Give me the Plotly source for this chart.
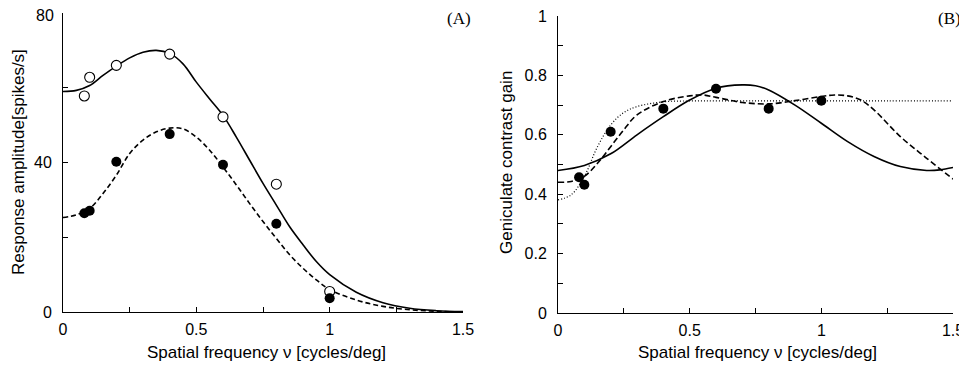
import plotly.graph_objects as go

# ---------------- Panel A data ----------------
a_pts_x = [0.08, 0.1, 0.2, 0.4, 0.6, 0.8, 1.0]
a_open_y = [57.8, 62.8, 66.0, 69.0, 52.2, 34.2, 5.5]
a_fill_y = [26.4, 27.1, 40.2, 47.6, 39.4, 23.6, 3.7]

a_curve_x = [0, 0.05, 0.1, 0.15, 0.2, 0.25, 0.3, 0.35, 0.4, 0.45, 0.5, 0.55, 0.6, 0.65,
             0.7, 0.75, 0.8, 0.85, 0.9, 0.95, 1.0, 1.1, 1.2, 1.3, 1.4, 1.5]
a_solid_y = [59.0, 59.3, 60.6, 63.3, 65.8, 68.0, 69.5, 70.0, 69.2, 66.4, 61.5, 57.0, 52.6,
             46.8, 40.6, 34.4, 28.6, 22.8, 18.0, 13.5, 10.0, 5.3, 2.5, 1.0, 0.35, 0.1]
a_dash_y = [25.3, 26.0, 27.7, 31.7, 36.6, 42.4, 46.0, 48.2, 49.2, 49.0, 46.8, 43.3, 38.8,
            34.0, 29.0, 24.2, 19.7, 15.3, 11.7, 8.6, 6.0, 3.2, 1.5, 0.6, 0.2, 0.0]

# ---------------- Panel B data ----------------
b_pts_x = [0.08, 0.1, 0.2, 0.4, 0.6, 0.8, 1.0]
b_pts_y = [0.457, 0.432, 0.61, 0.688, 0.755, 0.688, 0.715]

b_solid_x = [0, 0.1, 0.2, 0.3, 0.4, 0.5, 0.6, 0.7, 0.75, 0.8, 0.9, 1.0, 1.1, 1.2, 1.3, 1.4, 1.45, 1.5]
b_solid_y = [0.48, 0.497, 0.536, 0.60, 0.661, 0.717, 0.757, 0.768, 0.765, 0.751, 0.70,
             0.639, 0.577, 0.527, 0.493, 0.48, 0.482, 0.49]

b_dash_x = [0, 0.05, 0.1, 0.15, 0.2, 0.25, 0.3, 0.4, 0.5, 0.55, 0.6, 0.7, 0.8, 0.9, 1.0,
            1.05, 1.1, 1.15, 1.2, 1.3, 1.4, 1.5]
b_dash_y = [0.44, 0.443, 0.46, 0.504, 0.56, 0.617, 0.667, 0.712, 0.731, 0.734, 0.726,
            0.709, 0.704, 0.715, 0.729, 0.734, 0.731, 0.717, 0.684, 0.594, 0.521, 0.451]

b_dot_x = [0, 0.05, 0.1, 0.15, 0.2, 0.25, 0.3, 0.4, 0.5, 0.75, 1.0, 1.25, 1.5]
b_dot_y = [0.381, 0.398, 0.46, 0.56, 0.633, 0.675, 0.695, 0.711, 0.714, 0.714, 0.714, 0.714, 0.714]

a_xticks = [0, 0.25, 0.5, 0.75, 1.0, 1.25, 1.5]
a_xticktext = ["0", "", "0.5", "", "1", "", "1.5"]
a_yticks = [0, 20, 40, 60, 80]
a_yticktext = ["0", "", "40", "", ""]   # top label "80" drawn as annotation below
a_ytop_label = "80"
b_yticks = [0, 0.1, 0.2, 0.3, 0.4, 0.5, 0.6, 0.7, 0.8, 0.9, 1.0]
b_yticktext = ["0", "", "0.2", "", "0.4", "", "0.6", "", "0.8", "", "1"]

FONT = "Liberation Sans, Arial, sans-serif"
SERIF = "Liberation Serif, Times New Roman, serif"

# page body has an 8px margin; the figure is sized/placed to compensate
OFF = 8
W, H = 967 - OFF, 366 - OFF


def fx(px):
    return (px - OFF) / W


def fy(py):
    return 1 - (py - OFF) / H


fig = go.Figure()

line_kw = dict(color="black", width=1.6)

# Panel A
fig.add_trace(go.Scatter(x=a_curve_x, y=a_solid_y, mode="lines", line=dict(**line_kw, shape="spline"),
                         xaxis="x", yaxis="y", showlegend=False))
fig.add_trace(go.Scatter(x=a_curve_x, y=a_dash_y, mode="lines",
                         line=dict(**line_kw, shape="spline", dash="5px,3px"),
                         xaxis="x", yaxis="y", showlegend=False))
fig.add_trace(go.Scatter(x=a_pts_x, y=a_open_y, mode="markers",
                         marker=dict(symbol="circle", size=10, color="white", line=dict(color="black", width=1.1)),
                         xaxis="x", yaxis="y", showlegend=False, cliponaxis=False))
fig.add_trace(go.Scatter(x=a_pts_x, y=a_fill_y, mode="markers",
                         marker=dict(symbol="circle", size=10, color="black", line=dict(color="black", width=0)),
                         xaxis="x", yaxis="y", showlegend=False, cliponaxis=False))

# Panel B
fig.add_trace(go.Scatter(x=b_dot_x, y=b_dot_y, mode="lines",
                         line=dict(color="black", width=1.2, shape="spline", dash="1px,2px"),
                         xaxis="x2", yaxis="y2", showlegend=False))
fig.add_trace(go.Scatter(x=b_dash_x, y=b_dash_y, mode="lines",
                         line=dict(**line_kw, shape="spline", dash="6px,3px"),
                         xaxis="x2", yaxis="y2", showlegend=False))
fig.add_trace(go.Scatter(x=b_solid_x, y=b_solid_y, mode="lines", line=dict(**line_kw, shape="spline"),
                         xaxis="x2", yaxis="y2", showlegend=False))
fig.add_trace(go.Scatter(x=b_pts_x, y=b_pts_y, mode="markers",
                         marker=dict(symbol="circle", size=10, color="black", line=dict(color="black", width=0)),
                         xaxis="x2", yaxis="y2", showlegend=False, cliponaxis=False))

axis_common = dict(showgrid=False, zeroline=False, showline=True, linecolor="black", linewidth=1,
                   ticks="inside", ticklen=5, tickcolor="black", tickwidth=1, automargin=False,
                   ticklabeloverflow="allow",
                   tickfont=dict(family=FONT, size=16, color="black"), mirror=False)

fig.update_layout(
    width=W, height=H,
    margin=dict(l=0, r=0, t=0, b=0, pad=0),
    paper_bgcolor="white", plot_bgcolor="white",
    xaxis=dict(**axis_common, domain=[fx(63), fx(463)], range=[0, 1.5], anchor="y",
               tickmode="array", tickvals=a_xticks, ticktext=a_xticktext, ticklabelstandoff=3),
    yaxis=dict(**axis_common, domain=[fy(312), fy(13)], range=[0, 80], anchor="x",
               tickmode="array", tickvals=a_yticks, ticktext=a_yticktext, ticklabelstandoff=7),
    xaxis2=dict(**axis_common, domain=[fx(558), fx(953)], range=[0, 1.5], anchor="y2",
                tickmode="array", tickvals=a_xticks, ticktext=a_xticktext, ticklabelstandoff=3),
    yaxis2=dict(**axis_common, domain=[fy(313), fy(16)], range=[0, 1], anchor="x2",
                tickmode="array", tickvals=b_yticks, ticktext=b_yticktext, ticklabelstandoff=7),
)

ann_specs = [
    ("Spatial frequency ν [cycles/deg]", 266, 352, 0, "center", FONT, 17),
    ("Spatial frequency ν [cycles/deg]", 757, 352, 0, "center", FONT, 17),
    ("Response amplitude[spikes/s]", 18, 162, -90, "center", FONT, 17),
    ("Geniculate contrast gain", 506, 163, -90, "center", FONT, 17),
    ("(A)", 473, 18, 0, "right", SERIF, 17),
    ("(B)", 963, 18, 0, "right", SERIF, 17),
    (a_ytop_label, 56, 16, 0, "right", FONT, 16),
]
for text, px, py, ang, xa, fam, sz in ann_specs:
    fig.add_annotation(text=text, x=fx(px), y=fy(py), xref="paper", yref="paper",
                       xanchor=xa, yanchor="middle", showarrow=False, textangle=ang,
                       font=dict(family=fam, size=sz, color="black"))

fig.write_html("out.html")
